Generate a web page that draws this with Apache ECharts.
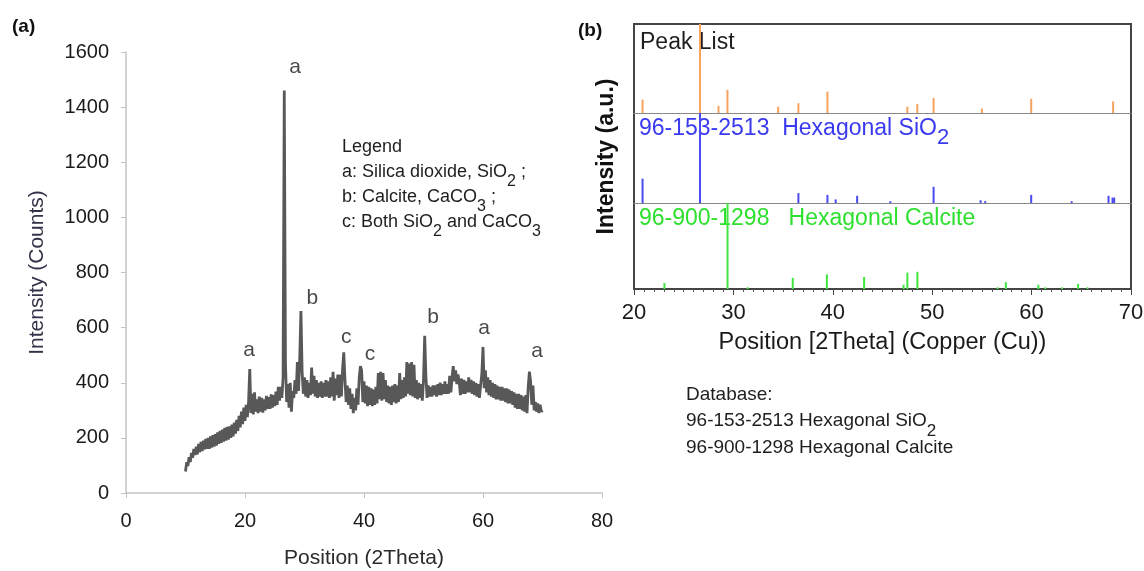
<!DOCTYPE html>
<html><head><meta charset="utf-8">
<script src="https://cdn.jsdelivr.net/npm/echarts@6/dist/echarts.min.js"></script>
<style>html,body{margin:0;padding:0;background:#fff}#c{width:1144px;height:571px}</style>
</head><body><div id="c"></div>
<script>
// ---- Panel (a): measured XRD pattern (sampled every 0.2 deg from 10 deg) ----
const xrdStart = 10;
const xrdStep = 0.2;
const xrdIntensity = [
  78, 112, 98, 130, 112, 145, 128, 160, 138, 168,
  140, 178, 148, 185, 152, 190, 158, 196, 160, 200,
  160, 205, 165, 210, 168, 214, 172, 220, 178, 225,
  182, 230, 186, 236, 190, 240, 194, 242, 200, 248,
  205, 255, 215, 265, 225, 280, 238, 295, 250, 310,
  262, 320, 275, 330, 450, 290, 360, 285, 365, 295,
  340, 290, 350, 295, 345, 292, 340, 300, 352, 305,
  348, 305, 358, 310, 355, 315, 368, 320, 385, 335,
  385, 345, 420, 1460, 470, 330, 395, 310, 400, 295,
  370, 345, 410, 360, 475, 370, 490, 660, 440, 360,
  420, 350, 410, 345, 400, 355, 455, 360, 425, 350,
  410, 345, 400, 350, 405, 345, 400, 350, 410, 350,
  405, 345, 420, 350, 440, 335, 415, 355, 430, 345,
  430, 350, 450, 510, 410, 330, 390, 320, 380, 305,
  360, 290, 345, 300, 380, 320, 420, 460, 445, 330,
  405, 325, 390, 315, 385, 320, 380, 315, 375, 320,
  385, 325, 435, 340, 440, 335, 435, 340, 410, 330,
  390, 325, 385, 320, 390, 330, 395, 325, 390, 330,
  435, 340, 410, 345, 420, 350, 475, 360, 470, 355,
  475, 350, 465, 345, 410, 340, 400, 345, 395, 335,
  410, 570, 425, 345, 390, 350, 385, 350, 390, 355,
  390, 350, 395, 355, 400, 355, 395, 360, 405, 360,
  395, 360, 425, 365, 420, 460, 405, 445, 395, 430,
  405, 355, 415, 360, 410, 360, 405, 365, 420, 365,
  410, 360, 405, 355, 400, 350, 395, 345, 390, 430,
  530, 380, 445, 365, 420, 355, 410, 350, 400, 345,
  395, 340, 390, 340, 385, 335, 385, 335, 380, 330,
  380, 325, 375, 325, 370, 320, 365, 310, 360, 305,
  360, 305, 355, 300, 350, 295, 355, 290, 385, 440,
  405, 320, 390, 300, 330, 295, 325, 290, 320, 295,
  300
];
const letterLabels = ['a', 'a', 'b', 'c', 'c', 'b', 'a', 'a'];
const letterPos    = [20.7, 28.4, 31.3, 37.0, 41.0, 51.6, 60.2, 69.1];
const letterHeight = [519, 1546, 707, 566, 504, 639, 599, 515];

// ---- Panel (b): reference stick patterns (relative intensity, %) ----
const peakListPos = [20.86, 26.64, 28.5, 29.4, 34.5, 36.54, 39.46, 47.5, 48.5, 50.14, 55.0, 59.96, 68.2];
const peakListRel = [15, 100, 8, 26, 7, 11, 24, 7, 10, 17, 5, 16, 13];
const sio2Pos = [20.86, 26.64, 36.54, 39.46, 40.29, 42.45, 45.79, 50.14, 54.87, 55.33, 59.96, 64.03, 67.74, 68.14, 68.31];
const sio2Rel = [27, 100, 11, 9, 4, 8, 2, 18, 3, 2, 9, 2, 8, 6, 6];
const calcitePos = [23.06, 29.41, 31.43, 35.97, 39.40, 43.15, 47.12, 47.50, 48.51, 56.57, 57.41, 60.68, 61.38, 63.06, 64.68, 65.62];
const calciteRel = [7, 100, 2, 13, 17, 14, 5, 19, 20, 2, 8, 5, 2, 2, 6, 2];

const FONT = 'Liberation Sans, Arial, sans-serif';
const pattern = xrdIntensity.map((v, i) => [+(xrdStart + i * xrdStep).toFixed(2), v]);
const sticks = (pos, rel) => pos.map((p, i) => [p, rel[i]]);

const richSub = (size, subSize, color, lh, pad) => ({
  n: { fontSize: size, fontFamily: FONT, fill: color, lineHeight: lh, verticalAlign: 'top' },
  s: { fontSize: subSize, fontFamily: FONT, fill: color, lineHeight: subSize, padding: [pad, 0, 0, 0], verticalAlign: 'top' }
});

const hiddenAxis = (gi) => ({
  gridIndex: gi, type: 'value', min: 20, max: 70,
  axisLine: { show: true, lineStyle: { color: '#888', width: 1 } },
  axisTick: { show: false }, axisLabel: { show: false }, splitLine: { show: false }
});
const hiddenY = (gi) => ({
  gridIndex: gi, type: 'value', min: 0, max: 100, show: false, splitLine: { show: false }
});

const chart = echarts.init(document.getElementById('c'));
chart.setOption({
  animation: false,
  backgroundColor: '#fff',
  grid: [
    { left: 126, top: 52, width: 476, height: 441, outerBoundsMode: 'none', containLabel: false },
    { left: 634, top: 24, width: 497, height: 89, outerBoundsMode: 'none', containLabel: false },
    { left: 634, top: 113, width: 497, height: 90, outerBoundsMode: 'none', containLabel: false },
    { left: 634, top: 203, width: 497, height: 86, outerBoundsMode: 'none', containLabel: false },
    { left: 634, top: 24, width: 497, height: 265, outerBoundsMode: 'none', containLabel: false, show: true, borderColor: '#444', borderWidth: 2, backgroundColor: 'transparent' }
  ],
  xAxis: [
    {
      gridIndex: 0, type: 'value', min: 0, max: 80, interval: 20,
      axisLine: { lineStyle: { color: '#c4c4c4', width: 1.5 } },
      axisTick: { show: true, length: 5, lineStyle: { color: '#c4c4c4' } },
      axisLabel: { color: '#1a1a1a', fontSize: 20, fontFamily: FONT, margin: 18 },
      splitLine: { show: false },
      name: 'Position (2Theta)', nameLocation: 'middle', nameGap: 55,
      nameTextStyle: { color: '#2a2a2a', fontSize: 21, fontFamily: FONT }
    },
    hiddenAxis(1), hiddenAxis(2),
    Object.assign(hiddenAxis(3), { axisLine: { show: false } }),
    {
      gridIndex: 4, type: 'value', min: 20, max: 70, interval: 10,
      axisLine: { show: true, lineStyle: { color: '#444', width: 2 } },
      axisTick: { show: true, length: 6, lineStyle: { color: '#444' } },
      minorTick: { show: true, splitNumber: 10, length: 3, lineStyle: { color: '#555' } },
      axisLabel: { color: '#1a1a1a', fontSize: 22, fontFamily: FONT, margin: 13 },
      splitLine: { show: false },
      name: 'Position [2Theta] (Copper (Cu))', nameLocation: 'middle', nameGap: 42,
      nameTextStyle: { color: '#1a1a1a', fontSize: 23.5, fontFamily: FONT }
    }
  ],
  yAxis: [
    {
      gridIndex: 0, type: 'value', min: 0, max: 1600, interval: 200,
      axisLine: { show: true, lineStyle: { color: '#c4c4c4', width: 1.5 } },
      axisTick: { show: true, length: 5, lineStyle: { color: '#c4c4c4' } },
      axisLabel: { color: '#1a1a1a', fontSize: 20, fontFamily: FONT, margin: 17, formatter: (v) => String(v) },
      splitLine: { show: false },
      name: 'Intensity (Counts)', nameLocation: 'middle', nameGap: 78, nameRotate: 90,
      nameTextStyle: { color: '#33334a', fontSize: 21, fontFamily: FONT }
    },
    hiddenY(1), hiddenY(2), hiddenY(3),
    {
      gridIndex: 4, type: 'value', min: 0, max: 100,
      axisLine: { show: false }, axisTick: { show: false }, axisLabel: { show: false },
      splitLine: { show: false },
      name: 'Intensity (a.u.)', nameLocation: 'middle', nameGap: 16, nameRotate: 90,
      nameTextStyle: { color: '#111', fontSize: 23, fontWeight: 'bold', fontFamily: FONT }
    }
  ],
  series: [
    {
      type: 'line', xAxisIndex: 0, yAxisIndex: 0, data: pattern,
      showSymbol: false, symbol: 'none',
      lineStyle: { color: '#585858', width: 2.8 }
    },
    {
      type: 'scatter', xAxisIndex: 0, yAxisIndex: 0, symbolSize: 0,
      data: letterPos.map((x, i) => [x, letterHeight[i]]),
      label: {
        show: true, position: 'inside', color: '#1a1a1a', fontSize: 21, fontFamily: FONT,
        formatter: (p) => letterLabels[p.dataIndex]
      }
    },
    {
      type: 'bar', xAxisIndex: 1, yAxisIndex: 1, data: sticks(peakListPos, peakListRel),
      barWidth: 2, itemStyle: { color: '#f7a35e' }
    },
    {
      type: 'bar', xAxisIndex: 2, yAxisIndex: 2, data: sticks(sio2Pos, sio2Rel),
      barWidth: 2, itemStyle: { color: '#4a4af2' }
    },
    {
      type: 'bar', xAxisIndex: 3, yAxisIndex: 3, data: sticks(calcitePos, calciteRel),
      barWidth: 2, itemStyle: { color: '#3fe63f' }
    }
  ],
  graphic: [
    { type: 'text', left: 12, top: 17, style: { text: '(a)', font: 'bold 19px ' + FONT, fill: '#111' } },
    { type: 'text', left: 578, top: 21, style: { text: '(b)', font: 'bold 19px ' + FONT, fill: '#111' } },
    {
      type: 'text', left: 342, top: 138,
      style: {
        text: '{n|Legend}\n{n|a: Silica dioxide, SiO}{s|2}{n| ;}\n{n|b: Calcite, CaCO}{s|3}{n| ;}\n{n|c: Both SiO}{s|2}{n| and CaCO}{s|3}',
        rich: richSub(18, 16, '#1e1e1e', 25, 11)
      }
    },
    { type: 'text', left: 640, top: 31, style: { text: 'Peak List', font: '23px ' + FONT, fill: '#1e1e1e' } },
    {
      type: 'text', left: 639, top: 117,
      style: {
        text: '{n|96-153-2513  Hexagonal SiO}{s|2}',
        rich: richSub(23, 22, '#3a3af0', 25, 10)
      }
    },
    { type: 'text', left: 639, top: 207, style: { text: '96-900-1298   Hexagonal Calcite', font: '23px ' + FONT, fill: '#2ee02e' } },
    {
      type: 'text', left: 686, top: 385,
      style: {
        text: '{n|Database:}\n{n|96-153-2513 Hexagonal SiO}{s|2}\n{n|96-900-1298 Hexagonal Calcite}',
        rich: richSub(19, 17, '#1e1e1e', 26.5, 11)
      }
    }
  ]
});
</script>
</body></html>
